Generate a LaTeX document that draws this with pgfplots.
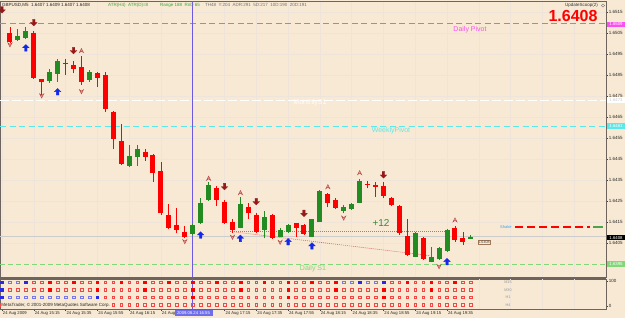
\documentclass[border=0pt]{standalone}
\usepackage{pgfplots}
\pgfplotsset{compat=1.18}
\usepackage{pgfplotstable}
\usepackage{fontspec}
\setmainfont{Liberation Sans}

\definecolor{bgc}{RGB}{247,233,211}
\definecolor{gridc}{RGB}{238,228,218}
\definecolor{framec}{RGB}{110,100,92}
\definecolor{candR}{RGB}{255,0,0}
\definecolor{candG}{RGB}{34,139,34}
\definecolor{arrB}{RGB}{20,40,235}
\definecolor{arrD}{RGB}{150,25,25}
\definecolor{pinkA}{RGB}{238,150,150}
\definecolor{pinkD}{RGB}{175,70,70}
\definecolor{pivM}{RGB}{250,80,240}
\definecolor{pivC}{RGB}{90,232,232}
\definecolor{s1G}{RGB}{130,215,120}
\definecolor{vline}{RGB}{110,90,225}
\definecolor{trendR}{RGB}{235,95,95}
\definecolor{txtG}{RGB}{60,165,60}
\definecolor{sqR}{RGB}{245,70,70}
\definecolor{sqB}{RGB}{40,40,230}
\definecolor{sqBl}{RGB}{120,120,235}

\newcommand\fs[1]{\fontsize{#1}{#1}\selectfont}

\pgfdeclareplotmark{uparr}{%
  \pgfpathmoveto{\pgfpoint{0pt}{\pgfplotmarksize}}%
  \pgfpathlineto{\pgfpoint{\pgfplotmarksize}{0pt}}%
  \pgfpathlineto{\pgfpoint{0.38\pgfplotmarksize}{0pt}}%
  \pgfpathlineto{\pgfpoint{0.38\pgfplotmarksize}{-\pgfplotmarksize}}%
  \pgfpathlineto{\pgfpoint{-0.38\pgfplotmarksize}{-\pgfplotmarksize}}%
  \pgfpathlineto{\pgfpoint{-0.38\pgfplotmarksize}{0pt}}%
  \pgfpathlineto{\pgfpoint{-\pgfplotmarksize}{0pt}}%
  \pgfpathclose\pgfusepathqfillstroke}
\pgfdeclareplotmark{downarr}{%
  \pgfpathmoveto{\pgfpoint{0pt}{-\pgfplotmarksize}}%
  \pgfpathlineto{\pgfpoint{\pgfplotmarksize}{0pt}}%
  \pgfpathlineto{\pgfpoint{0.38\pgfplotmarksize}{0pt}}%
  \pgfpathlineto{\pgfpoint{0.38\pgfplotmarksize}{\pgfplotmarksize}}%
  \pgfpathlineto{\pgfpoint{-0.38\pgfplotmarksize}{\pgfplotmarksize}}%
  \pgfpathlineto{\pgfpoint{-0.38\pgfplotmarksize}{0pt}}%
  \pgfpathlineto{\pgfpoint{-\pgfplotmarksize}{0pt}}%
  \pgfpathclose\pgfusepathqfillstroke}
\pgfdeclareplotmark{chevup}{%
  \pgfpathmoveto{\pgfpoint{0pt}{\pgfplotmarksize}}%
  \pgfpathlineto{\pgfpoint{\pgfplotmarksize}{-\pgfplotmarksize}}%
  \pgfpathlineto{\pgfpoint{0pt}{-0.3\pgfplotmarksize}}%
  \pgfpathlineto{\pgfpoint{-\pgfplotmarksize}{-\pgfplotmarksize}}%
  \pgfpathclose\pgfusepathqfillstroke}
\pgfdeclareplotmark{chevdown}{%
  \pgfpathmoveto{\pgfpoint{0pt}{-\pgfplotmarksize}}%
  \pgfpathlineto{\pgfpoint{\pgfplotmarksize}{\pgfplotmarksize}}%
  \pgfpathlineto{\pgfpoint{0pt}{0.3\pgfplotmarksize}}%
  \pgfpathlineto{\pgfpoint{-\pgfplotmarksize}{\pgfplotmarksize}}%
  \pgfpathclose\pgfusepathqfillstroke}

% k open high low close
\pgfplotstableread{
k o h l c
1 1.65049 1.65080 1.65004 1.65009
4 1.65051 1.65060 1.64831 1.64834
5 1.64830 1.64831 1.64755 1.64815
8 1.64907 1.64925 1.64850 1.64904
9 1.64898 1.64918 1.64858 1.64877
10 1.64887 1.64940 1.64802 1.64818
12 1.64858 1.64866 1.64794 1.64837
13 1.64850 1.64866 1.64675 1.64687
14 1.64675 1.64679 1.64496 1.64544
15 1.64536 1.64617 1.64421 1.64425
18 1.64485 1.64498 1.64442 1.64458
19 1.64469 1.64474 1.64342 1.64385
20 1.64394 1.64437 1.64183 1.64194
21 1.64183 1.64236 1.64115 1.64120
22 1.64136 1.64217 1.64096 1.64112
23 1.64104 1.64131 1.64072 1.64080
27 1.64313 1.64321 1.64226 1.64255
28 1.64244 1.64255 1.64140 1.64144
29 1.64151 1.64163 1.64099 1.64112
31 1.64223 1.64239 1.64163 1.64194
32 1.64183 1.64193 1.64099 1.64104
34 1.64183 1.64187 1.64068 1.64072
37 1.64144 1.64147 1.64080 1.64120
38 1.64134 1.64139 1.64088 1.64093
41 1.64283 1.64290 1.64220 1.64242
42 1.64255 1.64266 1.64210 1.64215
46 1.64331 1.64345 1.64310 1.64328
47 1.64326 1.64342 1.64270 1.64315
48 1.64323 1.64339 1.64263 1.64274
49 1.64266 1.64270 1.64226 1.64231
50 1.64226 1.64231 1.64088 1.64096
51 1.64083 1.64164 1.63988 1.63993
53 1.64075 1.64077 1.63969 1.63972
57 1.64123 1.64131 1.64056 1.64064
58 1.64075 1.64104 1.64040 1.64056
}\redc

\pgfplotstableread{
k o h l c
2 1.65017 1.65069 1.65013 1.65037
3 1.65028 1.65080 1.65021 1.65060
6 1.64821 1.64877 1.64813 1.64866
7 1.64855 1.64925 1.64818 1.64918
11 1.64826 1.64874 1.64817 1.64866
16 1.64417 1.64517 1.64410 1.64464
17 1.64458 1.64517 1.64417 1.64496
24 1.64093 1.64140 1.64088 1.64136
25 1.64144 1.64263 1.64140 1.64242
26 1.64255 1.64342 1.64250 1.64325
30 1.64123 1.64268 1.64120 1.64234
33 1.64112 1.64202 1.64072 1.64172
35 1.64080 1.64120 1.64077 1.64112
36 1.64104 1.64140 1.64099 1.64136
39 1.64080 1.64166 1.64077 1.64163
40 1.64151 1.64302 1.64149 1.64298
43 1.64204 1.64231 1.64191 1.64223
44 1.64212 1.64242 1.64207 1.64236
45 1.64242 1.64353 1.64239 1.64345
52 1.63985 1.64104 1.63982 1.64096
54 1.63961 1.64032 1.63958 1.63985
55 1.63972 1.64030 1.63969 1.64025
56 1.64013 1.64117 1.64009 1.64112
59 1.64070 1.64090 1.64070 1.64080
}\greenc

\begin{document}
\begin{tikzpicture}
\useasboundingbox (0,0) rectangle (625pt,318pt);
\fill[bgc] (0,0) rectangle (625pt,318pt);

% ---------------- main price window ----------------
\begin{axis}[
  at={(0pt,41pt)}, anchor=south west, scale only axis,
  width=606pt, height=276pt,
  xmin=-0.25, xmax=76, ymin=1.63888, ymax=1.65202,
  clip=false,
  axis line style={draw=framec, line width=0.8pt},
  xtick={0,4,...,72}, xticklabels={}, xtick style={draw=none},
  ytick={1.6405,1.6415,1.6425,1.6435,1.6445,1.6455,1.6465,1.6475,1.6485,1.6495,1.6505,1.6515},
  ytick pos=right, yticklabel pos=right,
  tick align=outside, major tick length=2pt,
  ytick style={draw=black!75, line width=0.4pt},
  scaled y ticks=false,
  yticklabel style={font=\fs{4.5}, text=black!85, inner sep=0.6pt,
     /pgf/number format/fixed, /pgf/number format/fixed zerofill,
     /pgf/number format/precision=4, /pgf/number format/assume math mode=true},
  grid=major, major grid style={gridc, line width=0.5pt},
]
% level lines
\addplot[pivM, line width=0.8pt, dash pattern=on 6pt off 3.5pt] coordinates {(-0.25,1.65093) (76,1.65093)};
\addplot[white, line width=0.8pt, dash pattern=on 9pt off 3pt] coordinates {(-0.25,1.64731) (76,1.64731)};
\addplot[pivC, line width=0.8pt, dash pattern=on 6pt off 3.5pt] coordinates {(-0.25,1.64607) (76,1.64607)};
\addplot[s1G, line width=0.8pt, dash pattern=on 5pt off 3pt] coordinates {(-0.25,1.63950) (76,1.63950)};
\addplot[black!20, line width=0.4pt] coordinates {(-0.25,1.64080) (76,1.64080)};
\addplot[candR, line width=1.4pt, dash pattern=on 8pt off 4pt] coordinates {(64.6,1.64126) (74.0,1.64126)};
\addplot[candG!80, line width=1.4pt] coordinates {(74.4,1.64126) (75.6,1.64126)};
% trend lines
\addplot[trendR, line width=0.6pt, dash pattern=on 1pt off 1pt] coordinates {(28.7,1.64107) (55.7,1.64107)};
\addplot[trendR, line width=0.6pt, dash pattern=on 1pt off 1pt] coordinates {(28.9,1.64104) (53.8,1.63990)};
% vertical time marker
\addplot[vline, line width=0.8pt] coordinates {(24,1.63888) (24,1.65202)};
% candles: wicks then bodies
\addplot[candR, line width=0.8pt, quiver={u=0, v={\thisrow{h}-\thisrow{l}}}] table[x=k, y=l] {\redc};
\addplot[candG, line width=0.8pt, quiver={u=0, v={\thisrow{h}-\thisrow{l}}}] table[x=k, y=l] {\greenc};
\addplot[candR, line width=5pt, quiver={u=0, v={\thisrow{c}-\thisrow{o}}}] table[x=k, y=o] {\redc};
\addplot[candG, line width=5pt, quiver={u=0, v={\thisrow{c}-\thisrow{o}}}] table[x=k, y=o] {\greenc};
% signal arrows
\addplot[only marks, mark=uparr, mark size=3.3pt, mark options={fill=arrB, draw=arrB, line width=0.3pt}]
  coordinates {(3,1.64979) (7,1.64770) (25,1.64088) (30,1.64072) (36,1.64056) (39,1.64036) (56,1.63961)};
\addplot[only marks, mark=downarr, mark size=3.3pt, mark options={fill=arrD, draw=arrD, line width=0.3pt}]
  coordinates {(0,1.65160) (4,1.65099) (9,1.64966) (28,1.64318) (32,1.64247) (38,1.64191) (48,1.64374)};
\addplot[only marks, mark=chevup, mark size=2.1pt, mark options={fill=pinkA, draw=pinkD, line width=0.4pt}]
  coordinates {(10,1.64966) (26,1.64358) (30,1.64290) (41,1.64318) (45,1.64385) (57,1.64160)};
\addplot[only marks, mark=chevdown, mark size=2.1pt, mark options={fill=pinkA, draw=pinkD, line width=0.4pt}]
  coordinates {(1,1.64993) (5,1.64750) (10,1.64770) (23,1.64056) (29,1.64077) (35,1.64053) (43,1.64168) (55,1.63937)};
\end{axis}

% ---------------- indicator window ----------------
\begin{axis}[
  at={(0pt,9pt)}, anchor=south west, scale only axis,
  width=606pt, height=30pt,
  xmin=-0.25, xmax=76, ymin=-12, ymax=108,
  clip=false,
  axis line style={draw=framec, line width=0.8pt},
  xtick={0,4,...,56},
  xticklabels={24 Aug 2009, 24 Aug 15:15, 24 Aug 15:35, 24 Aug 15:55, 24 Aug 16:15, 24 Aug, , 24 Aug 17:15, 24 Aug 17:35, 24 Aug 17:55, 24 Aug 18:15, 24 Aug 18:35, 24 Aug 18:55, 24 Aug 19:15, 24 Aug 19:35},
  extra x ticks={60,64,68,72}, extra x tick labels={}, extra x tick style={major tick length=0pt},
  xtick pos=bottom,
  xticklabel style={font=\fs{4.2}, text=black!85, anchor=north west, inner sep=0.5pt, xshift=0.3pt},
  ytick={0,100}, ytick pos=right, yticklabel pos=right,
  yticklabel style={font=\fs{4.5}, text=black!85, inner sep=0.6pt, /pgf/number format/assume math mode=true},
  tick align=outside, major tick length=2pt,
  tick style={draw=black!75, line width=0.4pt},
  xmajorgrids, major grid style={gridc, line width=0.5pt},
]
\addplot[vline, line width=0.8pt] coordinates {(24,-12) (24,108)};
% red hollow squares
\addplot[only marks, mark=square, mark size=1.35pt, mark options={draw=sqR, fill=bgc, line width=0.45pt}] coordinates {
(4,94.8)(5,94.8)(7,94.8)(8,94.8)(10,94.8)(11,94.8)(13,94.8)(14,94.8)(16,94.8)(17,94.8)(19,94.8)(20,94.8)(22,94.8)(23,94.8)(25,94.8)(26,94.8)(28,94.8)(29,94.8)(31,94.8)(32,94.8)(34,94.8)(35,94.8)(37,94.8)(38,94.8)(40,94.8)(41,94.8)(49,94.8)(50,94.8)(52,94.8)(53,94.8)(55,94.8)(56,94.8)(58,94.8)(59,94.8)
(1,64)(2,64)(3,64)(4,64)(5,64)(7,64)(8,64)(9,64)(10,64)(11,64)(13,64)(14,64)(15,64)(16,64)(17,64)(19,64)(20,64)(21,64)(22,64)(23,64)(25,64)(26,64)(27,64)(28,64)(29,64)(31,64)(32,64)(33,64)(34,64)(35,64)(37,64)(38,64)(39,64)(40,64)(41,64)(43,64)(44,64)(45,64)(46,64)(47,64)(49,64)(50,64)(51,64)(52,64)(53,64)(55,64)(56,64)(57,64)(58,64)(59,64)
(13,34.8)(14,34.8)(15,34.8)(16,34.8)(17,34.8)(18,34.8)(19,34.8)(20,34.8)(21,34.8)(22,34.8)(23,34.8)(25,34.8)(26,34.8)(27,34.8)(28,34.8)(29,34.8)(30,34.8)(31,34.8)(32,34.8)(33,34.8)(34,34.8)(35,34.8)(37,34.8)(38,34.8)(39,34.8)(40,34.8)(41,34.8)(42,34.8)(43,34.8)(44,34.8)(45,34.8)(46,34.8)(47,34.8)(49,34.8)(50,34.8)(51,34.8)(52,34.8)(53,34.8)(54,34.8)(55,34.8)(56,34.8)(57,34.8)(58,34.8)(59,34.8)
(0,4)(1,4)(2,4)(3,4)(4,4)(5,4)(6,4)(7,4)(8,4)(9,4)(10,4)(11,4)(12,4)(13,4)(14,4)(15,4)(16,4)(17,4)(18,4)(19,4)(20,4)(21,4)(22,4)(23,4)(24,4)(25,4)(26,4)(27,4)(28,4)(29,4)(30,4)(31,4)(32,4)(33,4)(34,4)(35,4)(36,4)(37,4)(38,4)(39,4)(40,4)(41,4)(42,4)(43,4)(44,4)(45,4)(46,4)(47,4)(48,4)(49,4)(50,4)(51,4)(52,4)(53,4)(54,4)(55,4)(56,4)(57,4)(58,4)(59,4)
};
% red filled squares
\addplot[only marks, mark=square*, mark size=1.35pt, mark options={draw=candR, fill=candR, line width=0.45pt}] coordinates {
(6,94.8)(9,94.8)(12,94.8)(15,94.8)(18,94.8)(21,94.8)(24,94.8)(27,94.8)(30,94.8)(33,94.8)(36,94.8)(39,94.8)(42,94.8)(51,94.8)(54,94.8)(57,94.8)
(6,64)(12,64)(18,64)(24,64)(30,64)(36,64)(42,64)(48,64)(54,64)
(24,34.8)(36,34.8)(48,34.8)
};
% blue hollow squares
\addplot[only marks, mark=square, mark size=1.35pt, mark options={draw=sqBl, fill=bgc, line width=0.45pt}] coordinates {
(1,94.8)(2,94.8)(43,94.8)(44,94.8)(46,94.8)(47,94.8)
(1,34.8)(2,34.8)(3,34.8)(4,34.8)(5,34.8)(6,34.8)(7,34.8)(8,34.8)(9,34.8)(10,34.8)(11,34.8)
};
% blue filled squares
\addplot[only marks, mark=square*, mark size=1.35pt, mark options={draw=sqB, fill=sqB, line width=0.45pt}] coordinates {
(0,94.8)(3,94.8)(45,94.8)(48,94.8)(0,64)(0,34.8)(12,34.8)
};
\end{axis}

% separator between windows
\fill[framec] (0,39pt) rectangle (606.4pt,41pt);

% ---------------- texts ----------------
\node[anchor=west, inner sep=0pt, text=black!85] at (2pt,313pt) {\fs{4.5}GBPUSD,M5\ \ 1.6407 1.6409 1.6407 1.6408};
\node[anchor=west, inner sep=0pt, text=txtG] at (108pt,313pt) {\fs{4.5}ATR(H4)\ \ ATR(D)=8};
\node[anchor=west, inner sep=0pt, text=txtG] at (160pt,313pt) {\fs{4.5}Range 188\ \ RnD 65};
\node[anchor=west, inner sep=0pt, text=black!55] at (205pt,313pt) {\fs{4.5}TH48\ \ Y:204\ \ ADR:291\ \ 5D:217\ \ 10D:190\ \ 20D:191};
\node[anchor=west, inner sep=0pt, text=black!80] at (565pt,312.5pt) {\fs{4.5}UpdateScoop(2)};
\draw[black!55, line width=0.4pt] (603pt,312.5pt) circle (1.6pt);
\node[text=candR, inner sep=0pt] at (573pt,302pt) {\fs{16}\bfseries 1.6408};
\node[text=pivM, inner sep=0pt] at (470pt,288pt) {\fs{7}Daily Pivot};
\node[text=white, inner sep=0pt] at (310pt,215pt) {\fs{7}MonthlyS1};
\node[text=pivC, inner sep=0pt] at (391pt,187pt) {\fs{7}WeeklyPivot};
\node[text=s1G, inner sep=0pt] at (313pt,49pt) {\fs{7}Daily S1};
\node[text=txtG!85!black, inner sep=0pt] at (381pt,95pt) {\fs{10}+12};
\node[anchor=west, text=blue!45!cyan!80, inner sep=0pt] at (500pt,91pt) {\fs{4}Shake};
\node[draw={rgb,255:red,160;green,120;blue,90}, fill=bgc, line width=0.4pt, inner sep=0.6pt, text=black!70] at (484pt,76pt) {\fs{3.6}1.6408};

% right-hand price boxes
\node[anchor=west, fill=pivM, text=white, inner sep=0pt, minimum width=18.5pt, minimum height=5.2pt] at (606.6pt,293.6pt) {\fs{4.3}1.6509};
\node[anchor=west, fill=white, text=black!20, inner sep=0pt, minimum width=18.5pt, minimum height=5.2pt] at (606.6pt,218pt) {\fs{4.3}1.6473};
\node[anchor=west, fill=pivC, text=white, inner sep=0pt, minimum width=18.5pt, minimum height=5.2pt] at (606.6pt,192pt) {\fs{4.3}1.6461};
\node[anchor=west, fill=black, text=white, inner sep=0pt, minimum width=18.5pt, minimum height=5.2pt] at (606.6pt,80.4pt) {\fs{4.3}1.6408};
\node[anchor=west, fill=s1G, text=white, inner sep=0pt, minimum width=18.5pt, minimum height=5.2pt] at (606.6pt,54pt) {\fs{4.3}1.6395};

% indicator window texts
\node[anchor=west, fill=bgc, inner sep=0.3pt, text=black!85] at (1pt,13pt) {\fs{4.5}MetaTrader, \textcopyright{} 2001-2009 MetaQuotes Software Corp.};
\node[text=black!40, inner sep=0pt] at (508pt,36pt) {\fs{3.8}M15};
\node[text=black!40, inner sep=0pt] at (508pt,28pt) {\fs{3.8}M30};
\node[text=black!40, inner sep=0pt] at (508pt,21pt) {\fs{3.8}H1};
\node[text=black!40, inner sep=0pt] at (508pt,13pt) {\fs{3.8}H4};
\node[fill={rgb,255:red,110;green,110;blue,235}, text=white, inner sep=0pt, minimum width=38pt, minimum height=6pt] at (193.5pt,4.6pt) {\fs{4.2}2009.08.24 16:55};
\end{tikzpicture}
\end{document}
